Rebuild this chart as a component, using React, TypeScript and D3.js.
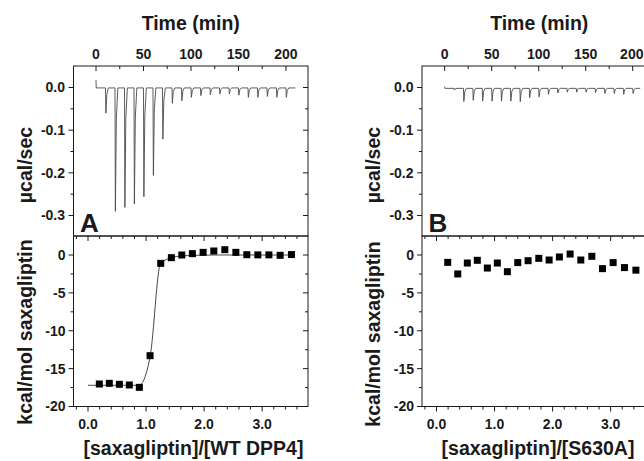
import React from 'react';
import * as d3 from 'd3';

// ---------- data ----------
const injectionTimes = [10, 20, 30, 40, 50, 60, 70, 80, 90, 100, 110, 120, 130, 140, 150, 160, 170, 180, 190, 200];
const peaksA = [-0.059, -0.289, -0.28, -0.272, -0.255, -0.205, -0.12, -0.036, -0.03, -0.022, -0.018, -0.016, -0.014, -0.014, -0.017, -0.022, -0.022, -0.02, -0.022, -0.022];
const peaksB = [-0.004, -0.031, -0.028, -0.03, -0.03, -0.03, -0.03, -0.031, -0.022, -0.02, -0.014, -0.011, -0.009, -0.009, -0.009, -0.01, -0.012, -0.012, -0.014, -0.012];

const timeTicks = [0, 50, 100, 150, 200];
const powerTicks = [0, -0.1, -0.2, -0.3];
const ratioTicks = [0, 1, 2, 3];
const heatTicks = [0, -5, -10, -15, -20];

const ratioA = [0.195, 0.367, 0.54, 0.712, 0.884, 1.069, 1.253, 1.436, 1.616, 1.798, 1.983, 2.167, 2.357, 2.547, 2.736, 2.926, 3.116, 3.31, 3.505];
const heatA = [-17.03, -16.94, -17.07, -17.16, -17.47, -13.29, -1.1, -0.35, 0, 0.18, 0.35, 0.53, 0.7, 0.35, 0.04, 0.02, 0.02, -0.04, 0.06];
const fitRatioA = [0.0, 0.2, 0.5, 0.88, 1.07, 1.25, 1.44, 1.62, 1.8, 2.2, 3.5];
const fitHeatA = [-17.2, -17.2, -17.2, -17.2, -13.4, -1.1, -0.35, -0.12, -0.05, 0, 0];

const ratioB = [0.193, 0.366, 0.531, 0.703, 0.876, 1.048, 1.221, 1.4, 1.578, 1.762, 1.94, 2.117, 2.302, 2.486, 2.676, 2.859, 3.043, 3.238, 3.435];
const heatB = [-0.97, -2.5, -1.06, -0.7, -1.72, -1.06, -2.2, -1.0, -0.75, -0.44, -0.66, -0.26, 0.13, -0.66, -0.17, -1.8, -1.0, -1.66, -2.0];

const panelLetters = ['A', 'B'];
const xTitles = ['[saxagliptin]/[WT DPP4]', '[saxagliptin]/[S630A]'];

// ---------- layout ----------
const W = 644;
const H = 461;
const panelLefts = [73.5, 422];
const timeDomains: [number, number][] = [[-23.7, 223.2], [-24.1, 225.3]];
const xTitleCenters = [193.5, 538];
const PW = 234.5;
const TOP = 66;
const MID = 236;
const BOT = 406.5;
const FONT = '"Liberation Sans", Arial, Helvetica, sans-serif';
const INK = '#1a1a1a';

type PanelProps = {
  idx: number;
  peaks: number[];
  traceStart: number;
  baseline: number;
  traceEnd: number;
  ratio: number[];
  heat: number[];
  fitR?: number[];
  fitH?: number[];
  titleCenterBottom: number;
};

function Panel(p: PanelProps) {
  const x0 = panelLefts[p.idx];
  const x1 = x0 + PW;
  const t = d3.scaleLinear().domain(timeDomains[p.idx]).range([x0, x1]);
  const pw = d3.scaleLinear().domain([-0.348, 0.0504]).range([MID, TOP]);
  const r = d3.scaleLinear().domain([-0.25, 3.79]).range([x0, x1]);
  const h = d3.scaleLinear().domain([-20, 2.51]).range([BOT, MID]);

  // raw trace: baseline with a sharp spike at every injection
  const pts: [number, number][] = [[0, p.traceStart], [0.2, p.baseline]];
  injectionTimes.forEach((ti, i) => {
    pts.push([ti, p.baseline]);
    pts.push([ti + 0.4, p.baseline + p.peaks[i]]);
    pts.push([ti + 1.4, p.baseline + p.peaks[i] * 0.25]);
    pts.push([ti + 3, p.baseline]);
  });
  pts.push([p.traceEnd, p.baseline]);
  const traceLine = d3.line<[number, number]>().x(d => t(d[0])).y(d => pw(d[1]));

  const fitLine = d3.line<number>().x((_, i) => r(p.fitR![i])).y(d => h(d)).curve(d3.curveMonotoneX);

  const timeMinor = d3.range(25, 225, 50);
  const powerMinor = [-0.05, -0.15, -0.25];
  const ratioMinor = d3.range(-0.2, 3.79, 0.2).filter(v => Math.abs(v - Math.round(v)) > 0.01);
  const heatMinor = [-2.5, -7.5, -12.5, -17.5];

  const tick = { stroke: INK, strokeWidth: 1 };
  const labelStyle = { fontFamily: FONT, fontWeight: 700, fontSize: 14, fill: INK } as const;
  const titleStyle = { fontFamily: FONT, fontWeight: 700, fontSize: 19.5, fill: INK } as const;
  const cx = (x0 + x1) / 2;

  return (
    <g>
      {/* frames */}
      <rect x={x0} y={TOP} width={PW} height={MID - TOP} fill="none" stroke={INK} strokeWidth={1} />
      <rect x={x0} y={MID} width={PW} height={BOT - MID} fill="none" stroke={INK} strokeWidth={1} />

      {/* top time axis (ticks inward) */}
      {timeTicks.map(v => (
        <g key={'tt' + v}>
          <line x1={t(v)} x2={t(v)} y1={TOP} y2={TOP + 5} {...tick} />
          <text x={Math.min(t(v), W - 12.2)} y={58.5} textAnchor="middle" style={labelStyle}>{v}</text>
        </g>
      ))}
      {timeMinor.map(v => (
        <line key={'tm' + v} x1={t(v)} x2={t(v)} y1={TOP} y2={TOP + 3} {...tick} />
      ))}
      <text x={cx} y={29.5} textAnchor="middle" style={titleStyle}>Time (min)</text>

      {/* power axis */}
      {powerTicks.map(v => (
        <g key={'pt' + v}>
          <line x1={x0 - 5} x2={x0} y1={pw(v)} y2={pw(v)} {...tick} />
          <line x1={x1 - 5} x2={x1} y1={pw(v)} y2={pw(v)} {...tick} />
          <text x={x0 - 8.5} y={pw(v)} dy="0.35em" textAnchor="end" style={labelStyle}>{d3.format('.1f')(v).replace('−', '-')}</text>
        </g>
      ))}
      {powerMinor.map(v => (
        <g key={'pm' + v}>
          <line x1={x0 - 3} x2={x0} y1={pw(v)} y2={pw(v)} {...tick} />
          <line x1={x1 - 3} x2={x1} y1={pw(v)} y2={pw(v)} {...tick} />
        </g>
      ))}
      <text transform={`translate(${x0 - 42},165) rotate(-90)`} textAnchor="middle" style={titleStyle}>µcal/sec</text>

      {/* raw trace */}
      <path d={traceLine(pts) || ''} fill="none" stroke="#4a4a4a" strokeWidth={0.9} strokeLinejoin="round" />

      <text x={x0 + 6.5} y={231.5} style={{ fontFamily: FONT, fontWeight: 700, fontSize: 26, fill: INK }}>{panelLetters[p.idx]}</text>

      {/* bottom panel: ratio axis */}
      {ratioTicks.map(v => (
        <g key={'rt' + v}>
          <line x1={r(v)} x2={r(v)} y1={BOT} y2={BOT + 5} {...tick} />
          <line x1={r(v)} x2={r(v)} y1={MID} y2={MID + 5} {...tick} />
          <text x={r(v)} y={428.5} textAnchor="middle" style={labelStyle}>{d3.format('.1f')(v)}</text>
        </g>
      ))}
      {ratioMinor.map(v => (
        <g key={'rm' + v}>
          <line x1={r(v)} x2={r(v)} y1={BOT} y2={BOT + 3} {...tick} />
          <line x1={r(v)} x2={r(v)} y1={MID} y2={MID + 3} {...tick} />
        </g>
      ))}
      <text x={xTitleCenters[p.idx]} y={455} textAnchor="middle" style={titleStyle}>{xTitles[p.idx]}</text>

      {/* heat axis */}
      {heatTicks.map(v => (
        <g key={'ht' + v}>
          <line x1={x0 - 5} x2={x0} y1={h(v)} y2={h(v)} {...tick} />
          <line x1={x1 - 5} x2={x1} y1={h(v)} y2={h(v)} {...tick} />
          <text x={x0 - 8} y={h(v)} dy="0.35em" textAnchor="end" style={labelStyle}>{String(v)}</text>
        </g>
      ))}
      {heatMinor.map(v => (
        <g key={'hm' + v}>
          <line x1={x0 - 3} x2={x0} y1={h(v)} y2={h(v)} {...tick} />
          <line x1={x1 - 3} x2={x1} y1={h(v)} y2={h(v)} {...tick} />
        </g>
      ))}
      <text transform={`translate(${x0 - 42},${p.titleCenterBottom}) rotate(-90)`} textAnchor="middle" style={titleStyle}>kcal/mol saxagliptin</text>

      {/* fit + points */}
      {p.fitH && p.fitR && (
        <path d={fitLine(p.fitH) || ''} fill="none" stroke="#333" strokeWidth={0.9} />
      )}
      {p.ratio.map((v, i) => (
        <rect key={'pt' + i} x={r(v) - 3.5} y={h(p.heat[i]) - 3.5} width={7} height={7} fill="#000" />
      ))}
    </g>
  );
}

export default function App() {
  return (
    <>
      <style>{`body{margin:0;}`}</style>
      <svg width={W} height={H} viewBox={`0 0 ${W} ${H}`} style={{ display: 'block', background: '#fff' }}>
        <rect x={0} y={0} width={W} height={H} fill="#fff" />
        <Panel idx={0} peaks={peaksA} traceStart={0.018} baseline={-0.001} traceEnd={210} ratio={ratioA} heat={heatA} fitR={fitRatioA} fitH={fitHeatA} titleCenterBottom={332} />
        <Panel idx={1} peaks={peaksB} traceStart={0.002} baseline={-0.002} traceEnd={208} ratio={ratioB} heat={heatB} titleCenterBottom={334} />
      </svg>
    </>
  );
}
